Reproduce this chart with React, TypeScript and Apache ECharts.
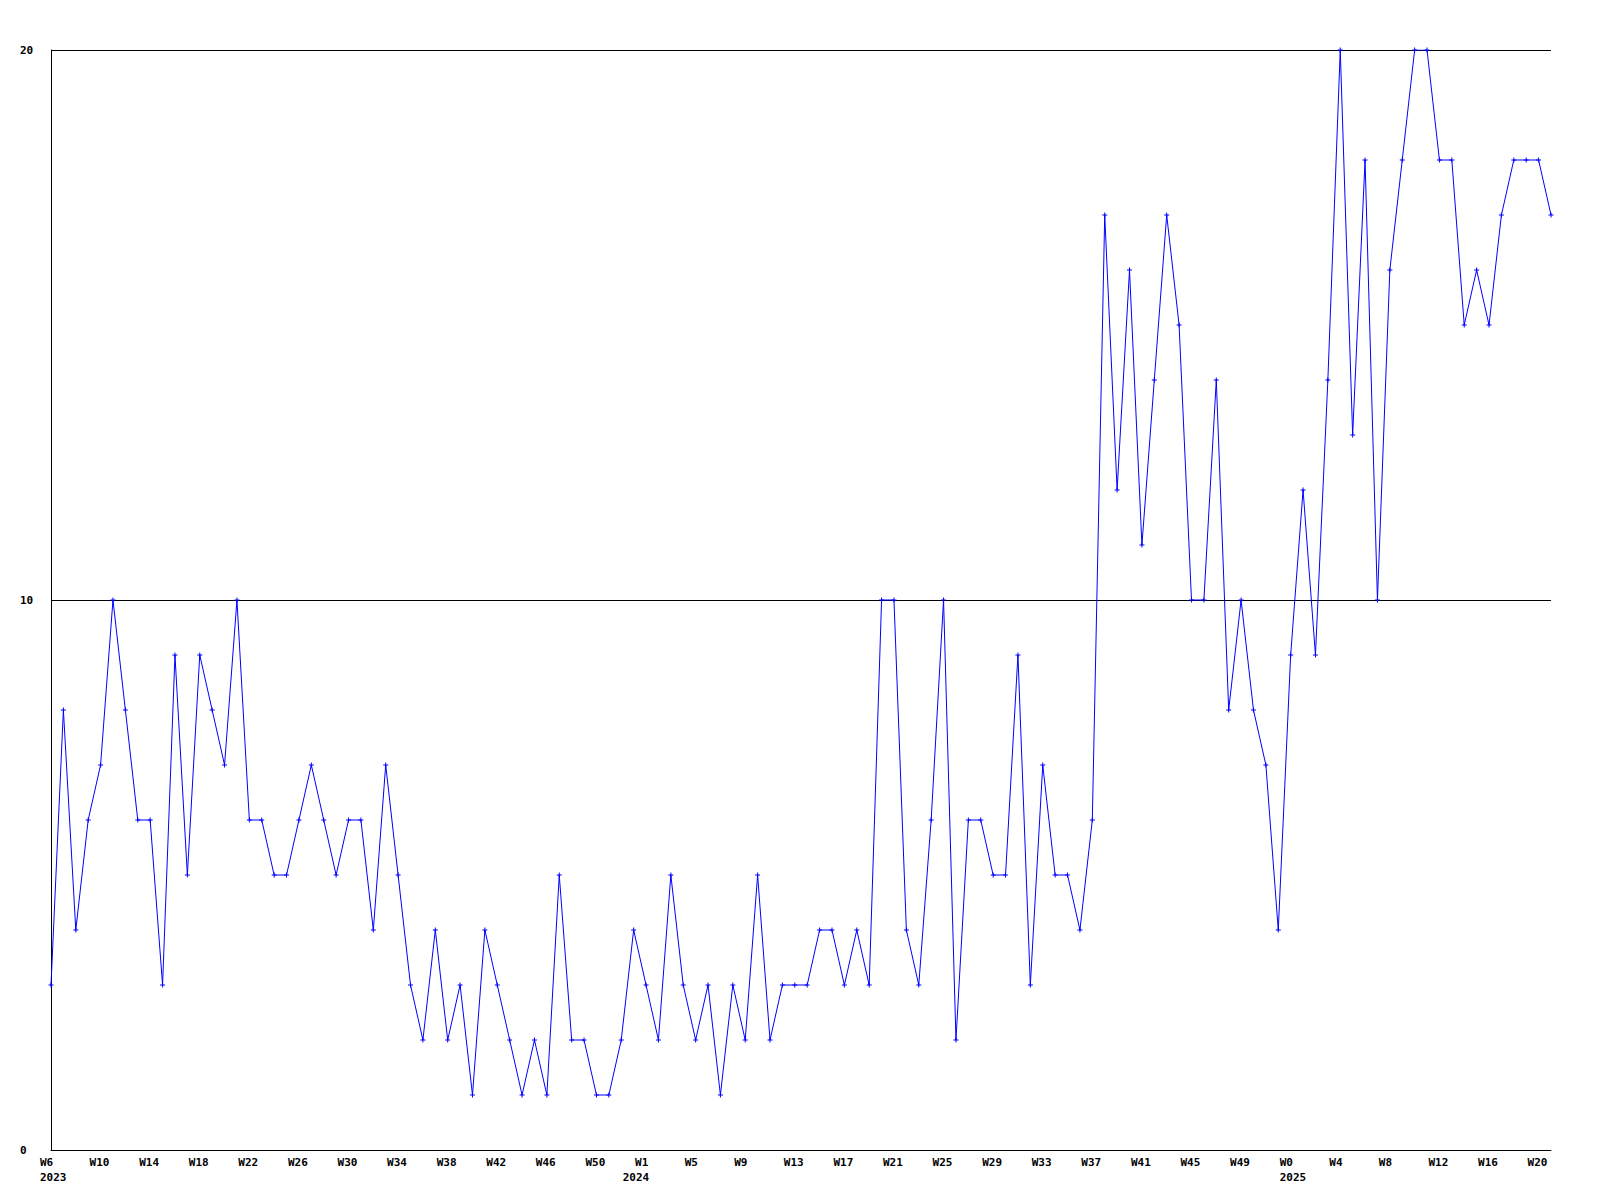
import React, { useEffect, useRef } from "react";
import * as echarts from "echarts";

const categories: string[] = [
  "2023-W6", "2023-W7", "2023-W8", "2023-W9", "2023-W10", "2023-W11", "2023-W12", "2023-W13",
  "2023-W14", "2023-W15", "2023-W16", "2023-W17", "2023-W18", "2023-W19", "2023-W20", "2023-W21",
  "2023-W22", "2023-W23", "2023-W24", "2023-W25", "2023-W26", "2023-W27", "2023-W28", "2023-W29",
  "2023-W30", "2023-W31", "2023-W32", "2023-W33", "2023-W34", "2023-W35", "2023-W36", "2023-W37",
  "2023-W38", "2023-W39", "2023-W40", "2023-W41", "2023-W42", "2023-W43", "2023-W44", "2023-W45",
  "2023-W46", "2023-W47", "2023-W48", "2023-W49", "2023-W50", "2023-W51", "2023-W52",
  "2024-W0", "2024-W1", "2024-W2", "2024-W3", "2024-W4", "2024-W5", "2024-W6", "2024-W7", "2024-W8",
  "2024-W9", "2024-W10", "2024-W11", "2024-W12", "2024-W13", "2024-W14", "2024-W15", "2024-W16",
  "2024-W17", "2024-W18", "2024-W19", "2024-W20", "2024-W21", "2024-W22", "2024-W23", "2024-W24",
  "2024-W25", "2024-W26", "2024-W27", "2024-W28", "2024-W29", "2024-W30", "2024-W31", "2024-W32",
  "2024-W33", "2024-W34", "2024-W35", "2024-W36", "2024-W37", "2024-W38", "2024-W39", "2024-W40",
  "2024-W41", "2024-W42", "2024-W43", "2024-W44", "2024-W45", "2024-W46", "2024-W47", "2024-W48",
  "2024-W49", "2024-W50", "2024-W51", "2024-W52",
  "2025-W0", "2025-W1", "2025-W2", "2025-W3", "2025-W4", "2025-W5", "2025-W6", "2025-W7",
  "2025-W8", "2025-W9", "2025-W10", "2025-W11", "2025-W12", "2025-W13", "2025-W14", "2025-W15",
  "2025-W16", "2025-W17", "2025-W18", "2025-W19", "2025-W20", "2025-W21",
];

const values: number[] = [
  3, 8, 4, 6, 7, 10, 8, 6, 6, 3, 9, 5, 9, 8, 7, 10, 6, 6, 5, 5, 6, 7, 6,
  5, 6, 6, 4, 7, 5, 3, 2, 4, 2, 3, 1, 4, 3, 2, 1, 2, 1, 5, 2, 2, 1,
  1, 2, 4, 3, 2, 5, 3, 2, 3, 1, 3, 2, 5, 2, 3, 3, 3, 4, 4, 3, 4, 3,
  10, 10, 4, 3, 6, 10, 2, 6, 6, 5, 5, 9, 3, 7, 5, 5, 4, 6,
  17, 12, 16, 11, 14, 17, 15, 10, 10, 14, 8, 10, 8, 7, 4, 9, 12, 9, 14, 20, 13,
  18, 10, 16, 18, 20, 20, 18, 18, 15, 16, 15, 17, 18, 18, 18, 17,
];

// first point of each year carries the year label
const yearStarts: string[] = ["2023-W6", "2024-W0", "2025-W0"];

// every 4th point carries a week label
const weekLabelStep = 4;

const yTicks = { min: 0, max: 20, interval: 10 };

const FONT = "'DejaVu Sans Mono', 'Liberation Mono', monospace";

export default function App() {
  const ref = useRef<HTMLDivElement>(null);

  useEffect(() => {
    if (!ref.current) return;
    const chart = echarts.init(ref.current, null, { renderer: "svg" });
    chart.setOption({
      animation: false,
      backgroundColor: "#ffffff",
      grid: { left: 51, right: 49, top: 50, bottom: 50, containLabel: false },
      xAxis: {
        type: "category",
        data: categories,
        boundaryGap: false,
        axisLine: { show: true, lineStyle: { color: "#000", width: 1 } },
        axisTick: { show: false },
        splitLine: { show: false },
        axisLabel: {
          interval: (idx: number, val: string) =>
            idx % weekLabelStep === 0 || yearStarts.includes(val),
          hideOverlap: false,
          align: "left",
          padding: [0, 0, 0, -11],
          margin: 5,
          color: "#000",
          fontFamily: FONT,
          fontWeight: "bold",
          fontSize: 11,
          lineHeight: 15,
          formatter: (val: string, idx: number) => {
            const [year, week] = val.split("-");
            const wk = idx % weekLabelStep === 0 ? week : " ";
            return yearStarts.includes(val) ? `${wk}\n${year}` : wk;
          },
        },
      },
      yAxis: {
        type: "value",
        min: yTicks.min,
        max: yTicks.max,
        interval: yTicks.interval,
        axisLine: { show: true, lineStyle: { color: "#000", width: 1 } },
        axisTick: { show: false },
        splitLine: { show: true, lineStyle: { color: "#000", width: 1 } },
        axisLabel: {
          align: "left",
          margin: 31,
          color: "#000",
          fontFamily: FONT,
          fontWeight: "bold",
          fontSize: 11,
        },
      },
      series: [
        {
          type: "line",
          data: values,
          symbol: "path://M2,0H3V2H5V3H3V5H2V3H0V2H2Z",
          symbolSize: 5,
          showSymbol: true,
          showAllSymbol: true,
          lineStyle: { color: "#0000ff", width: 1 },
          itemStyle: { color: "#0000ff" },
          emphasis: { disabled: true },
        },
      ],
    });
    return () => chart.dispose();
  }, []);

  return (
    <div
      ref={ref}
      style={{ position: "absolute", left: 0, top: 0, width: 1600, height: 1200 }}
    />
  );
}
